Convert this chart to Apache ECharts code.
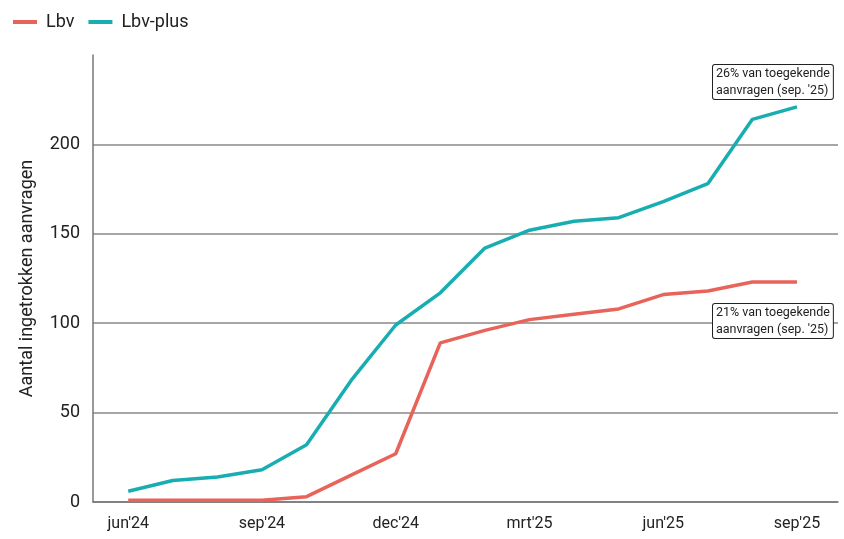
<!DOCTYPE html>
<html>
<head>
<meta charset="utf-8">
<script src="https://cdn.jsdelivr.net/npm/echarts@6/dist/echarts.min.js"></script>
<style>
  html, body { margin: 0; padding: 0; background: #fff; }
  #chart { width: 844px; height: 539px; }
</style>
</head>
<body>
<div id="chart"></div>
<script>
// maanden (index 0 = jun'24)
const months = ["jun'24", "jul'24", "aug'24", "sep'24", "okt'24", "nov'24", "dec'24", "jan'25",
                "feb'25", "mrt'25", "apr'25", "mei'25", "jun'25", "jul'25", "aug'25", "sep'25"];
const tickIdx = [0, 3, 6, 9, 12, 15];
const lbv = [1, 1, 1, 1, 3, 15, 27, 89, 96, 102, 105, 108, 116, 118, 123, 123];
const lbvPlus = [6, 12, 14, 18, 32, 68, 99, 117, 142, 152, 157, 159, 168, 178, 214, 221];
const yTicks = [0, 50, 100, 150, 200];

const RED = '#e8635a';
const TEAL = '#17adb1';
const FONT = 'Roboto';

const toPairs = arr => arr.map((v, i) => [i, v]);

const chart = echarts.init(document.getElementById('chart'));

// annotatie-box
const noteBox = (left, top, lines) => ({
    type: 'text',
    left: left,
    top: top,
    style: {
        text: lines.join('\n'),
        font: '12.5px ' + FONT,
        fill: '#222',
        lineHeight: 17,
        backgroundColor: '#fff',
        borderColor: '#222',
        borderWidth: 1,
        borderRadius: 2,
        padding: [0, 3, 0, 3]
    },
    z: 100
});

chart.setOption({
    animation: false,
    textStyle: { fontFamily: FONT },
    legend: {
        left: 8,
        top: 8,
        itemWidth: 24,
        itemHeight: 4,
        itemGap: 14,
        icon: 'rect',
        textStyle: { fontSize: 18, color: '#222', fontFamily: FONT, padding: [0, 0, 0, 4] },
        data: ['Lbv', 'Lbv-plus']
    },
    grid: { left: 93, right: 6, top: 55, bottom: 37, containLabel: false },
    xAxis: {
        type: 'value',
        min: -0.79,
        max: 15.92,
        axisLine: { show: true, onZero: false, lineStyle: { color: '#777', width: 1.5 } },
        axisTick: { show: false },
        splitLine: { show: false },
        axisLabel: {
            customValues: tickIdx,
            formatter: v => months[Math.round(v)] || '',
            fontSize: 16,
            color: '#222',
            margin: 14
        }
    },
    yAxis: {
        type: 'value',
        min: 0,
        max: 250,
        interval: 50,
        name: 'Aantal ingetrokken aanvragen',
        nameLocation: 'middle',
        nameGap: 57,
        nameTextStyle: { fontSize: 18, color: '#222' },
        axisLine: { show: true, onZero: false, lineStyle: { color: '#777', width: 1.5 } },
        axisTick: { show: false },
        axisLabel: {
            customValues: yTicks,
            fontSize: 18,
            color: '#222',
            margin: 13
        },
        splitLine: {
            show: true,
            showMaxLine: false,
            lineStyle: { color: '#888', width: 1.5 }
        }
    },
    series: [
        {
            name: 'Lbv',
            type: 'line',
            data: toPairs(lbv),
            symbol: 'none',
            color: RED,
            lineStyle: { width: 3.5, color: RED },
            z: 3
        },
        {
            name: 'Lbv-plus',
            type: 'line',
            data: toPairs(lbvPlus),
            symbol: 'none',
            color: TEAL,
            lineStyle: { width: 3.5, color: TEAL },
            z: 4
        }
    ],
    graphic: [
        noteBox(712, 64, ['26% van toegekende', "aanvragen (sep. '25)"]),
        noteBox(712, 303, ['21% van toegekende', "aanvragen (sep. '25)"])
    ]
});
</script>
</body>
</html>
